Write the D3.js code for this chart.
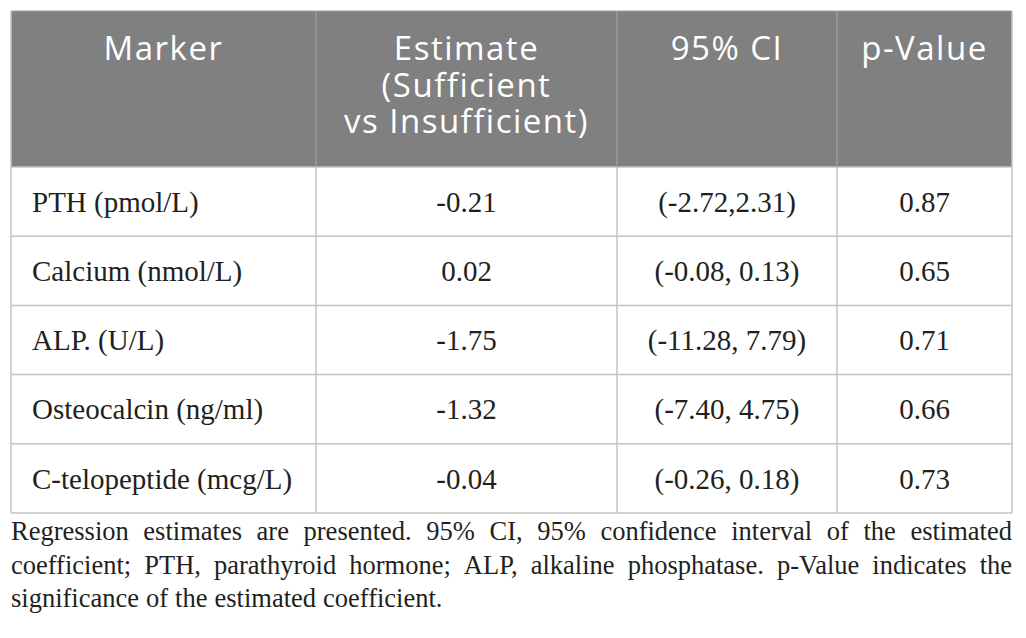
<!DOCTYPE html>
<meta charset="utf-8">
<title>Regression estimates</title>
<style>
  body { margin: 0; background: #fff; }
  svg { display: block; }
</style>
<body>
<script src="https://d3js.org/d3.v7.min.js"></script>
<script>
// table content
const headers = [["Marker"], ["Estimate", "(Sufficient", "vs Insufficient)"], ["95% CI"], ["p-Value"]];
const markers = ["PTH (pmol/L)", "Calcium (nmol/L)", "ALP. (U/L)", "Osteocalcin (ng/ml)", "C-telopeptide (mcg/L)"];
const estimates = ["-0.21", "0.02", "-1.75", "-1.32", "-0.04"];
const cis = ["(-2.72,2.31)", "(-0.08, 0.13)", "(-11.28, 7.79)", "(-7.40, 4.75)", "(-0.26, 0.18)"];
const pvalues = ["0.87", "0.65", "0.71", "0.66", "0.73"];
const footnote = [
  "Regression estimates are presented. 95% CI, 95% confidence interval of the estimated",
  "coefficient; PTH, parathyroid hormone; ALP, alkaline phosphatase. p-Value indicates the",
  "significance of the estimated coefficient."
];

const W = 1026, H = 638;
const tLeft = 11, tRight = 1012, tTop = 11, headBottom = 167, tBottom = 513;
const colEdges = [tLeft, 316, 617, 837, tRight];

const svg = d3.select("body").append("svg").attr("width", W).attr("height", H);

const y = d3.scaleBand().domain(d3.range(markers.length)).range([headBottom, tBottom]);

// header
svg.append("rect")
  .attr("x", tLeft).attr("y", tTop)
  .attr("width", tRight - tLeft).attr("height", headBottom - tTop)
  .attr("fill", "#808080");

const head = svg.append("g")
  .attr("font-family", "'Open Sans', sans-serif")
  .attr("font-size", 33)
  .attr("letter-spacing", 1.5)
  .style("font-variant-ligatures", "none")
  .attr("fill", "#fff")
  .attr("text-anchor", "middle");

headers.forEach((lines, i) => {
  const cx = (colEdges[i] + colEdges[i + 1]) / 2;
  lines.forEach((l, j) => {
    head.append("text")
      .attr("x", cx).attr("y", 60 + j * 36.5)
      .text(l);
  });
});

// grid lines
const grid = svg.append("g").attr("stroke", "#c4c4c4").attr("stroke-width", 1.5).attr("fill", "none");
grid.selectAll("line.h").data(d3.range(markers.length + 1)).join("line")
  .attr("x1", tLeft).attr("x2", tRight)
  .attr("y1", d => d < markers.length ? y(d) : tBottom)
  .attr("y2", d => d < markers.length ? y(d) : tBottom);
grid.selectAll("line.v").data(colEdges).join("line")
  .attr("x1", d => d).attr("x2", d => d)
  .attr("y1", (d, i) => (i === 0 || i === colEdges.length - 1) ? tTop : headBottom)
  .attr("y2", tBottom);
svg.append("g").attr("stroke", "#a0a0a0").attr("stroke-width", 1.2)
  .selectAll("line").data(colEdges.slice(1, -1)).join("line")
    .attr("x1", d => d).attr("x2", d => d)
    .attr("y1", tTop).attr("y2", headBottom);
svg.append("line").attr("x1", tLeft).attr("x2", tRight).attr("y1", tTop).attr("y2", tTop)
  .attr("stroke", "#a0a0a0").attr("stroke-width", 1.2);

// body cells
const body = svg.append("g")
  .attr("font-family", "'Liberation Serif', 'DejaVu Serif', serif")
  .attr("font-size", 29)
  .attr("fill", "#231f20");

const columns = [markers, estimates, cis, pvalues];
columns.forEach((col, c) => {
  const cx = c === 0 ? colEdges[0] + 21 : (colEdges[c] + colEdges[c + 1]) / 2;
  body.selectAll(null).data(col).join("text")
    .attr("x", cx)
    .attr("y", (d, i) => y(i) + y.bandwidth() / 2)
    .attr("dy", "0.35em")
    .attr("text-anchor", c === 0 ? "start" : "middle")
    .text(d => d);
});

// footnote, justified
const note = svg.append("g")
  .attr("font-family", "'Liberation Serif', 'DejaVu Serif', serif")
  .attr("font-size", 26.5)
  .attr("fill", "#231f20");

footnote.forEach((line, li) => {
  const by = 540 + li * 33.5;
  const words = line.split(" ");
  const last = li === footnote.length - 1;
  const ts = words.map(w => note.append("text").attr("y", by).text(w));
  const widths = ts.map(t => t.node().getComputedTextLength());
  const total = d3.sum(widths);
  const space = last ? 7 : (tRight - tLeft - total) / (words.length - 1);
  let x = tLeft;
  ts.forEach((t, i) => { t.attr("x", x); x += widths[i] + space; });
});
</script>
</body>
